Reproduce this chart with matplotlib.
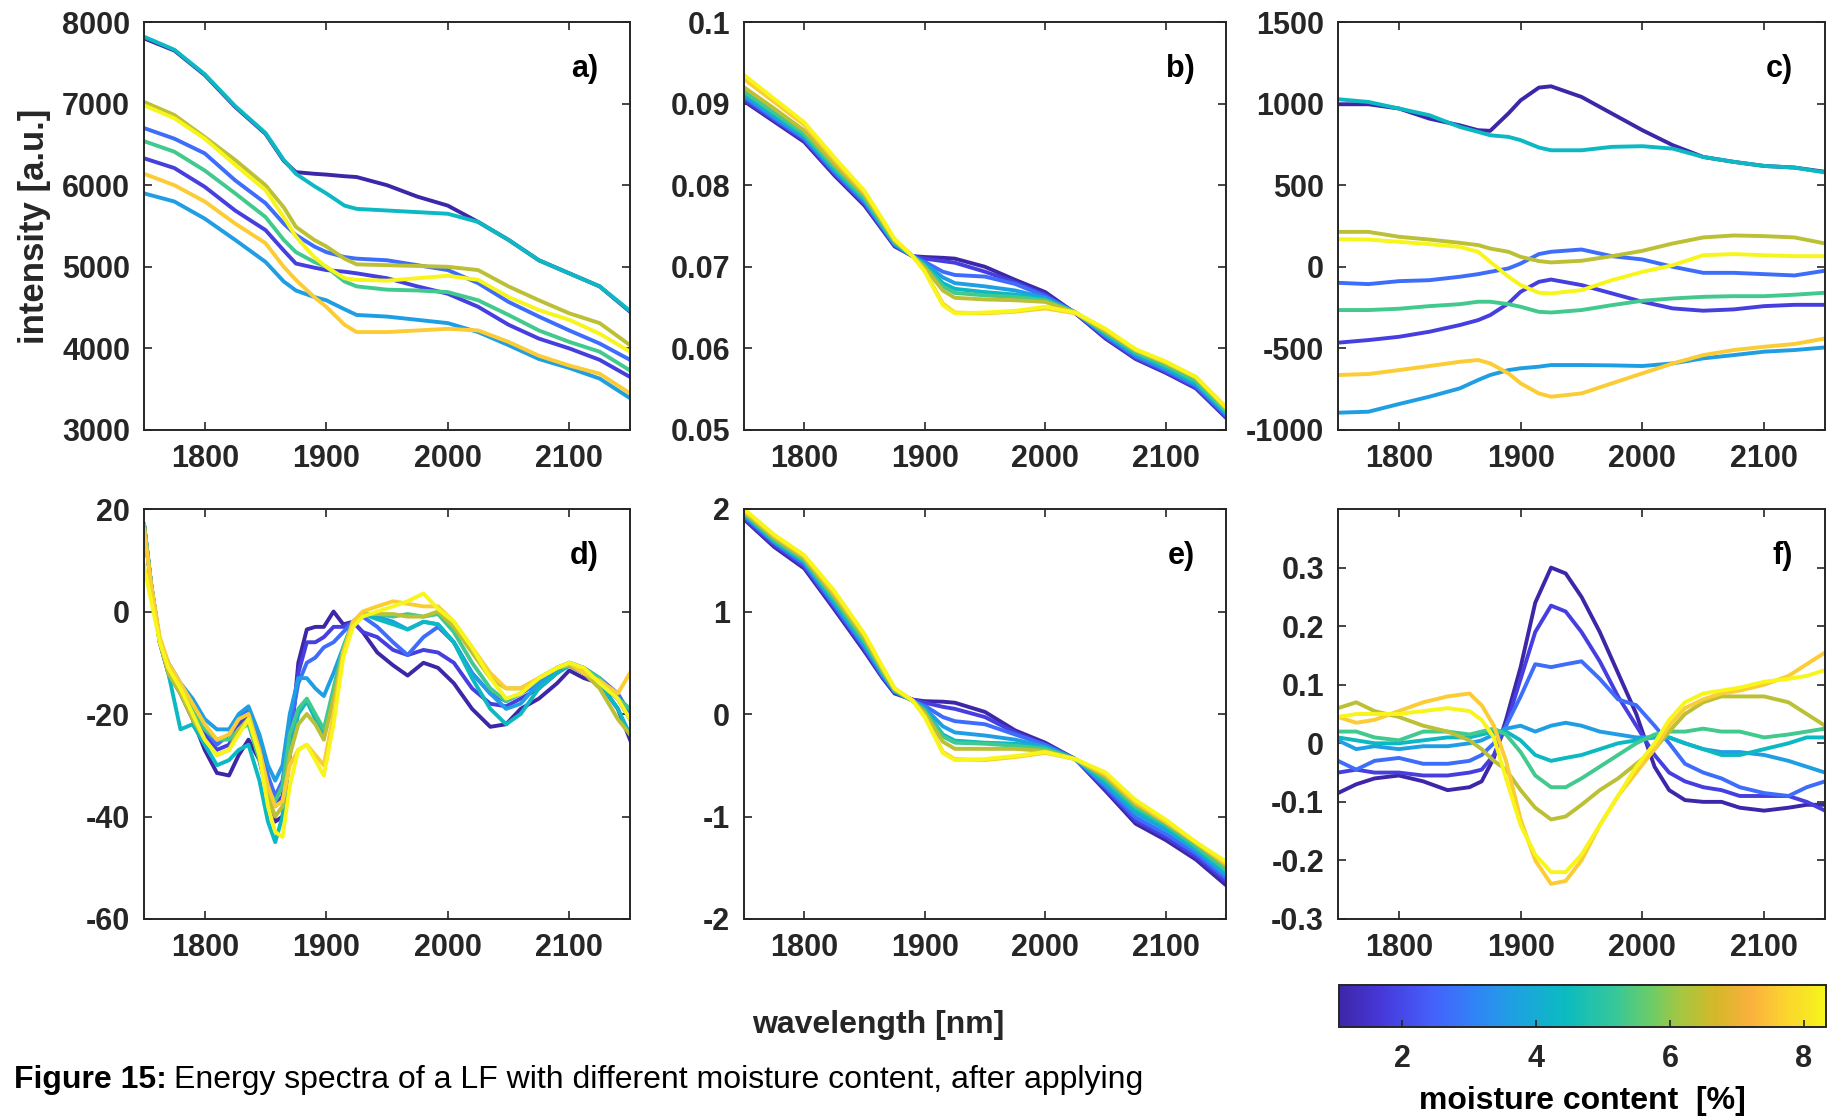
import numpy as np
import matplotlib
matplotlib.use("Agg")
import matplotlib.pyplot as plt
from matplotlib.colors import LinearSegmentedColormap, Normalize
from matplotlib.cm import ScalarMappable

plt.rcParams['font.family'] = ['Liberation Sans', 'DejaVu Sans']
plt.rcParams['font.weight'] = 'bold'
plt.rcParams['axes.labelweight'] = 'bold'
plt.rcParams['font.size'] = 22
plt.rcParams['axes.linewidth'] = 1.4
plt.rcParams['text.color'] = '#262626'
plt.rcParams['xtick.color'] = '#262626'
plt.rcParams['ytick.color'] = '#262626'

# parula-like colormap (colours)
parula_pos = [0.0, 0.085, 0.19, 0.27, 0.355, 0.465, 0.57, 0.64, 0.705, 0.775, 0.845, 0.915, 1.0]
parula_hex = ['#3e26a8', '#4638d9', '#4560fb', '#3380f8', '#1fa0e3', '#0bbbc0', '#38c898',
              '#6bcc68', '#a8c640', '#d4b828', '#fbb03e', '#fbd230', '#f7f51a']
parula = LinearSegmentedColormap.from_list('parula', list(zip(parula_pos, parula_hex)))

# moisture content of the 9 spectra [%]
moisture = [1.06, 1.8, 2.7, 3.6, 4.4, 5.3, 6.4, 7.6, 8.33]

# wavelength grid for the smooth panels a, b, c, e
wl = [1750, 1775, 1800, 1825, 1850, 1865, 1875, 1890, 1900, 1915, 1925, 1950, 1975, 2000,
      2025, 2050, 2075, 2100, 2125, 2150]

# a) raw intensity
raw = [
    [7800, 7650, 7350, 6960, 6630, 6300, 6160, 6140, 6130, 6110, 6100, 6000, 5860, 5750, 5550, 5330, 5080, 4920, 4760, 4450],
    [6330, 6210, 5980, 5690, 5450, 5200, 5040, 4990, 4960, 4940, 4920, 4860, 4760, 4670, 4510, 4290, 4120, 4000, 3860, 3650],
    [6700, 6570, 6390, 6060, 5780, 5530, 5390, 5250, 5180, 5120, 5100, 5080, 5020, 4960, 4800, 4570, 4390, 4220, 4060, 3860],
    [5900, 5800, 5590, 5330, 5060, 4820, 4710, 4630, 4590, 4480, 4410, 4390, 4350, 4310, 4200, 4040, 3870, 3760, 3630, 3390],
    [7820, 7660, 7360, 6970, 6640, 6310, 6140, 5990, 5900, 5750, 5710, 5690, 5670, 5650, 5550, 5330, 5080, 4920, 4760, 4460],
    [6540, 6410, 6180, 5900, 5610, 5330, 5180, 5060, 5000, 4820, 4760, 4720, 4710, 4690, 4590, 4410, 4220, 4080, 3960, 3730],
    [7020, 6860, 6590, 6310, 6000, 5730, 5490, 5330, 5250, 5100, 5030, 5020, 5010, 5000, 4960, 4760, 4590, 4430, 4310, 4040],
    [6140, 6000, 5800, 5530, 5290, 5000, 4840, 4630, 4510, 4290, 4200, 4200, 4220, 4240, 4220, 4080, 3910, 3790, 3690, 3450],
    [6980, 6820, 6570, 6250, 5940, 5610, 5370, 5120, 5000, 4860, 4840, 4830, 4860, 4890, 4840, 4630, 4470, 4350, 4180, 3960],
]

# b) area normalised
norm_area = [
    [.0903, .0878, .0853, .0812, .0775, .0745, .0725, .0713, .0712, .0711, .0710, .0700, .0684, .0669, .0643, .0612, .0587, .0570, .0551, .0515],
    [.0905, .0880, .0855, .0814, .0777, .0746, .0726, .0713, .0710, .0707, .0705, .0694, .0681, .0666, .0643, .0613, .0588, .0571, .0552, .0516],
    [.0908, .0882, .0857, .0816, .0779, .0748, .0727, .0713, .0706, .0694, .0690, .0688, .0679, .0664, .0644, .0615, .0590, .0573, .0554, .0518],
    [.0910, .0884, .0859, .0818, .0781, .0749, .0728, .0713, .0704, .0687, .0680, .0676, .0671, .0662, .0644, .0616, .0592, .0575, .0556, .0520],
    [.0913, .0887, .0861, .0820, .0783, .0751, .0729, .0713, .0702, .0680, .0673, .0669, .0666, .0660, .0644, .0618, .0594, .0577, .0558, .0522],
    [.0915, .0889, .0863, .0822, .0784, .0752, .0730, .0713, .0701, .0676, .0668, .0665, .0663, .0659, .0644, .0619, .0595, .0579, .0560, .0523],
    [.0920, .0894, .0867, .0826, .0788, .0755, .0732, .0713, .0699, .0671, .0662, .0660, .0659, .0657, .0644, .0621, .0598, .0582, .0564, .0526],
    [.0930, .0902, .0874, .0831, .0791, .0757, .0733, .0713, .0695, .0655, .0644, .0643, .0645, .0649, .0643, .0623, .0598, .0583, .0565, .0528],
    [.0935, .0906, .0877, .0834, .0793, .0758, .0734, .0713, .0694, .0653, .0643, .0644, .0646, .0651, .0644, .0624, .0599, .0584, .0565, .0528],
]

# c) mean centred
centred = [
    [996, 996, 970, 908, 867, 837, 833, 940, 1020, 1098, 1106, 1041, 939, 837, 745, 673, 643, 618, 608, 582],
    [-465, -449, -429, -398, -357, -327, -296, -224, -153, -92, -78, -112, -163, -214, -255, -269, -261, -241, -233, -233],
    [-98, -106, -88, -82, -61, -45, -31, -10, 20, 78, 92, 106, 65, 45, 0, -37, -37, -45, -53, -24],
    [-894, -888, -841, -796, -745, -694, -663, -633, -622, -612, -602, -602, -604, -608, -592, -561, -541, -520, -510, -494],
    [1027, 1010, 970, 929, 857, 827, 806, 796, 776, 731, 714, 714, 735, 739, 724, 673, 643, 618, 608, 578],
    [-265, -265, -257, -241, -229, -214, -214, -229, -245, -276, -280, -265, -235, -208, -194, -184, -180, -180, -171, -159],
    [214, 214, 184, 167, 147, 133, 112, 92, 61, 35, 27, 37, 65, 98, 143, 180, 192, 188, 180, 143],
    [-663, -657, -633, -608, -582, -571, -592, -653, -714, -776, -796, -776, -714, -653, -592, -541, -510, -490, -473, -439],
    [169, 167, 153, 139, 122, 92, 31, -61, -112, -159, -163, -143, -82, -31, 10, 71, 78, 71, 65, 65],
]

# e) SNV
snv = [
    [1.90, 1.63, 1.42, 1.02, 0.61, 0.35, 0.20, 0.14, 0.125, 0.12, 0.11, 0.02, -0.16, -0.28, -0.44, -0.75, -1.07, -1.23, -1.42, -1.67],
    [1.91, 1.65, 1.44, 1.04, 0.63, 0.36, 0.21, 0.14, 0.11, 0.07, 0.05, -0.03, -0.18, -0.30, -0.44, -0.73, -1.04, -1.20, -1.39, -1.63],
    [1.93, 1.67, 1.46, 1.06, 0.65, 0.37, 0.22, 0.13, 0.08, -0.03, -0.07, -0.10, -0.20, -0.30, -0.44, -0.71, -1.01, -1.17, -1.36, -1.60],
    [1.94, 1.68, 1.48, 1.08, 0.67, 0.39, 0.22, 0.13, 0.06, -0.12, -0.18, -0.21, -0.25, -0.32, -0.44, -0.69, -0.97, -1.13, -1.33, -1.57],
    [1.95, 1.69, 1.49, 1.10, 0.69, 0.40, 0.23, 0.13, 0.04, -0.20, -0.26, -0.28, -0.29, -0.33, -0.44, -0.66, -0.94, -1.10, -1.31, -1.54],
    [1.96, 1.70, 1.50, 1.12, 0.71, 0.41, 0.23, 0.13, 0.03, -0.22, -0.28, -0.29, -0.31, -0.34, -0.44, -0.64, -0.91, -1.08, -1.29, -1.52],
    [1.97, 1.72, 1.52, 1.15, 0.74, 0.43, 0.24, 0.13, 0.01, -0.27, -0.34, -0.34, -0.34, -0.36, -0.44, -0.61, -0.88, -1.06, -1.26, -1.48],
    [1.99, 1.74, 1.54, 1.18, 0.77, 0.45, 0.25, 0.13, -0.02, -0.37, -0.44, -0.45, -0.42, -0.38, -0.44, -0.59, -0.86, -1.05, -1.25, -1.46],
    [2.00, 1.75, 1.55, 1.20, 0.78, 0.46, 0.25, 0.13, -0.03, -0.38, -0.45, -0.44, -0.41, -0.37, -0.44, -0.57, -0.84, -1.03, -1.25, -1.44],
]

# d) first derivative
wl_d = [1750, 1756, 1763, 1770, 1780, 1790, 1800, 1810, 1820, 1828, 1836, 1845, 1852, 1858, 1864, 1870, 1877,
        1884, 1891, 1898, 1906, 1914, 1922, 1930, 1942, 1955, 1967, 1980, 1992, 2005, 2020, 2035, 2048, 2060,
        2075, 2090, 2100, 2112, 2125, 2140, 2150]
deriv = [
    [17, 5, -6, -12, -16, -21, -27, -31.5, -32, -28, -25, -29, -36, -41, -40, -28, -10, -3.5, -3, -3, 0, -2.5, -2, -4, -8, -10.5, -12.5, -10, -11, -14, -19, -22.5, -22, -19, -17, -14, -11.5, -13, -14, -19, -25],
    [17, 5, -6, -12, -15, -20, -24, -27, -26, -22, -20, -26, -33, -38, -36, -25, -12, -6, -6, -5, -3, -3, -2, -4, -5, -7.5, -8.5, -7.5, -8, -10, -15, -18, -18.5, -17, -15, -12, -10.5, -12, -14, -17, -21],
    [17, 5, -6, -11, -15, -19, -23, -26, -24, -21, -19, -25, -32, -36, -33, -23, -14, -10, -9, -7, -6, -4, -2, -1, -3, -6, -8.5, -5, -3, -6, -12, -16, -17.5, -16, -14, -11, -10, -11, -13, -16, -20],
    [17, 5, -6, -10, -14, -17, -21, -23, -23, -20, -18.5, -24, -30, -33, -30, -20, -13, -13, -15, -16.5, -12, -7, -2, -0.5, -1, -2, -3.5, -2, -2.5, -6, -12, -16, -19, -18, -14, -11, -10, -11, -14, -17, -19],
    [17, 5, -6, -12, -23, -22, -26, -30, -29, -27, -26, -33, -41, -45, -40, -28, -20, -17.5, -21, -24, -16, -8, -2, -0.5, -1.5, -2.5, -3.5, -2, -2.5, -6, -13, -19, -22, -20, -15, -12, -10.5, -12, -14, -19, -24],
    [17, 5, -6, -11, -15, -19, -23, -25, -25, -23, -22, -29, -35, -37, -34, -24, -19, -17, -20, -23, -15, -7, -2, -0.5, -0.5, -1, -0.5, -1, -0.5, -4, -10, -15, -17.5, -16, -13, -11, -10.5, -11, -13, -17, -19],
    [17, 5, -6, -12, -16, -21, -25, -28, -27, -23, -21, -28, -36, -40, -38, -28, -22, -20, -22, -25, -17, -8, -2, -0.5, -0.5, -0.5, -1, -1, 0, -3, -8, -13, -15, -15, -13, -11, -10.5, -12, -15, -21, -24],
    [16, 5, -5, -10, -14, -18, -22, -25, -24, -21, -20, -27, -34, -38, -37, -30, -27, -26, -28, -30, -20, -8, -2, 0, 1, 2, 1.5, 1, 1, -2, -7, -12, -15, -15, -13, -11, -10, -12, -13.5, -16, -12],
    [9, 2, -6, -11, -15, -20, -25, -28, -27, -24, -21, -28, -38, -43, -44, -34, -27, -26, -29, -32, -22, -9, -3, -1, 0, 1, 2, 3.5, 0.5, -2, -7, -13, -17, -16, -13, -11, -10, -11, -14, -17, -21],
]

# f) mean centred SNV
wl_f = [1750, 1765, 1780, 1800, 1820, 1840, 1858, 1868, 1878, 1888, 1900, 1912, 1925, 1937, 1950, 1965, 1980,
        1995, 2010, 2022, 2035, 2050, 2065, 2080, 2100, 2120, 2135, 2150]
snv_centred = [
    [-0.085, -0.07, -0.06, -0.055, -0.065, -0.08, -0.075, -0.065, -0.025, 0.04, 0.13, 0.24, 0.30, 0.29, 0.25, 0.19, 0.12, 0.05, -0.04, -0.08, -0.097, -0.1, -0.1, -0.11, -0.115, -0.11, -0.105, -0.105],
    [-0.05, -0.045, -0.05, -0.05, -0.055, -0.055, -0.05, -0.045, -0.02, 0.03, 0.11, 0.19, 0.235, 0.225, 0.19, 0.14, 0.08, 0.03, -0.02, -0.05, -0.065, -0.075, -0.08, -0.09, -0.09, -0.09, -0.1, -0.115],
    [-0.03, -0.045, -0.03, -0.025, -0.035, -0.035, -0.03, -0.02, 0.0, 0.03, 0.08, 0.135, 0.13, 0.135, 0.14, 0.11, 0.075, 0.065, 0.03, 0.0, -0.035, -0.05, -0.06, -0.075, -0.085, -0.09, -0.075, -0.065],
    [0.005, -0.01, -0.005, -0.01, -0.005, -0.005, 0.0, 0.005, 0.015, 0.025, 0.03, 0.02, 0.03, 0.035, 0.03, 0.02, 0.015, 0.01, 0.01, 0.01, 0.0, -0.01, -0.015, -0.015, -0.02, -0.03, -0.04, -0.05],
    [0.01, 0.005, 0.0, 0.0, 0.005, 0.01, 0.01, 0.015, 0.02, 0.02, 0.005, -0.02, -0.03, -0.025, -0.02, -0.01, 0.0, 0.005, 0.01, 0.01, 0.0, -0.01, -0.02, -0.02, -0.01, 0.0, 0.01, 0.01],
    [0.02, 0.02, 0.01, 0.005, 0.02, 0.02, 0.015, 0.02, 0.025, 0.015, -0.015, -0.055, -0.075, -0.075, -0.06, -0.04, -0.02, 0.0, 0.015, 0.02, 0.02, 0.025, 0.02, 0.02, 0.01, 0.015, 0.02, 0.025],
    [0.06, 0.07, 0.055, 0.045, 0.03, 0.02, 0.005, -0.01, -0.03, -0.045, -0.08, -0.11, -0.13, -0.125, -0.105, -0.08, -0.06, -0.035, -0.01, 0.02, 0.05, 0.07, 0.08, 0.08, 0.08, 0.07, 0.05, 0.03],
    [0.045, 0.035, 0.04, 0.055, 0.07, 0.08, 0.085, 0.065, 0.03, -0.03, -0.13, -0.2, -0.24, -0.235, -0.2, -0.14, -0.09, -0.05, -0.01, 0.03, 0.06, 0.075, 0.085, 0.09, 0.1, 0.115, 0.135, 0.155],
    [0.045, 0.05, 0.05, 0.05, 0.055, 0.06, 0.055, 0.04, 0.01, -0.06, -0.14, -0.19, -0.22, -0.22, -0.19, -0.14, -0.09, -0.04, 0.0, 0.04, 0.07, 0.085, 0.09, 0.095, 0.105, 0.11, 0.115, 0.125],
]

W, H = 1831, 1117
fig = plt.figure(figsize=(W / 100, H / 100), dpi=100)
norm = Normalize(vmin=min(moisture), vmax=max(moisture))


def box(l, r, t, b):
    return [l / W, 1 - b / H, (r - l) / W, (b - t) / H]


cols_x = [(144, 630), (744, 1226), (1338, 1825)]
rows_y = [(22, 430), (509, 919)]

panels = [
    (wl, raw, (3000, 8000), [3000, 4000, 5000, 6000, 7000, 8000], None, 'a)'),
    (wl, norm_area, (0.05, 0.1), [0.05, 0.06, 0.07, 0.08, 0.09, 0.1], ['0.05', '0.06', '0.07', '0.08', '0.09', '0.1'], 'b)'),
    (wl, centred, (-1000, 1500), [-1000, -500, 0, 500, 1000, 1500], None, 'c)'),
    (wl_d, deriv, (-60, 20), [-60, -40, -20, 0, 20], None, 'd)'),
    (wl, snv, (-2, 2), [-2, -1, 0, 1, 2], None, 'e)'),
    (wl_f, snv_centred, (-0.3, 0.4), [-0.3, -0.2, -0.1, 0, 0.1, 0.2, 0.3],
     ['-0.3', '-0.2', '-0.1', '0', '0.1', '0.2', '0.3'], 'f)'),
]

for i, (x, ys, ylim, yt, ytl, tag) in enumerate(panels):
    l, r = cols_x[i % 3]
    t, b = rows_y[i // 3]
    ax = fig.add_axes(box(l, r, t, b))
    for m, y in zip(moisture, ys):
        ax.plot(x, y, color=parula(norm(m)), lw=2.8, solid_joinstyle='round')
    ax.set_xlim(1750, 2150)
    ax.set_ylim(*ylim)
    ax.set_xticks([1800, 1900, 2000, 2100])
    ax.set_yticks(yt)
    # plain hyphen minus signs, as in the original figure
    ax.set_yticklabels(ytl if ytl is not None else [str(v) for v in yt])
    ax.tick_params(direction='in', top=True, right=True, length=6, width=1.2, labelsize=22, pad=10)
    for s in ax.spines.values():
        s.set_color('#262626')
    ax.text(0.935, 0.885, tag, transform=ax.transAxes, ha='right', va='center', fontsize=22, color='black')

fig.text(35 / W, 1 - 226 / H, 'intensity [a.u.]', rotation=90, ha='center', va='center', fontsize=25)
fig.text(878 / W, 1 - 1025 / H, 'wavelength [nm]', ha='center', va='center', fontsize=23)

# colour bar
cax = fig.add_axes(box(1339, 1826, 985, 1027))
cb = fig.colorbar(ScalarMappable(norm=norm, cmap=parula), cax=cax, orientation='horizontal', ticks=[2, 4, 6, 8])
cb.outline.set_linewidth(1.4)
cb.outline.set_edgecolor('#262626')
cax.tick_params(direction='in', length=5, width=1.2, labelsize=22, pad=12)
cax.set_xlabel('moisture content  [%]', fontsize=23, fontweight='bold', labelpad=9)

# caption
t1 = fig.text(14 / W, 1 - 1080 / H, 'Figure 15:', ha='left', va='center', fontsize=23, color='black')
fig.canvas.draw()
bb = t1.get_window_extent()
fig.text((bb.x1 + 7) / W, 1 - 1080 / H, 'Energy spectra of a LF with different moisture content, after applying',
         ha='left', va='center', fontsize=23, fontweight='normal', color='black')

fig.savefig('out.png', dpi=100)
